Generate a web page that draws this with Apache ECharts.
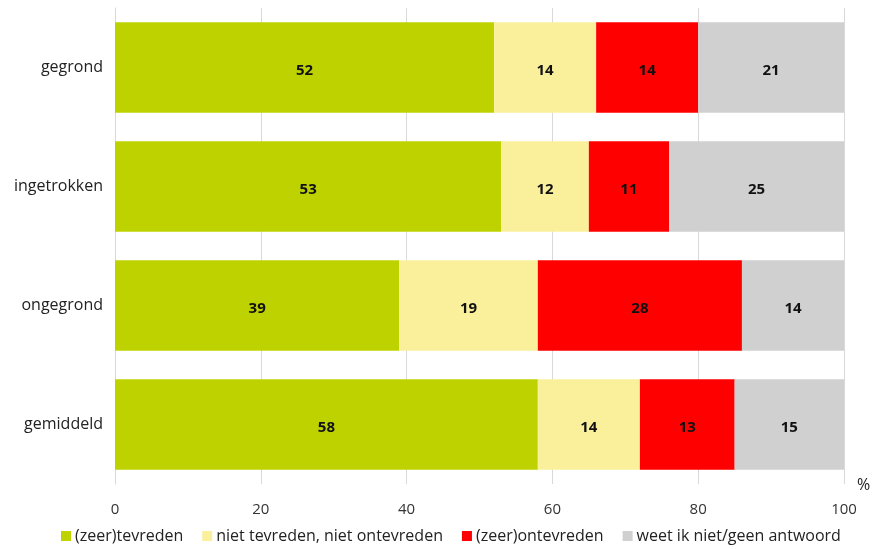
<!DOCTYPE html>
<html><head><meta charset="utf-8">
<script src="https://cdn.jsdelivr.net/npm/echarts@6/dist/echarts.min.js"></script>
<style>html,body{margin:0;padding:0;background:#fff}#c{width:872px;height:549px}</style>
</head><body><div id="c"></div>
<script>
const categories = ['gegrond', 'ingetrokken', 'ongegrond', 'gemiddeld'];
const seriesNames = ['(zeer)tevreden', 'niet tevreden, niet ontevreden', '(zeer)ontevreden', 'weet ik niet/geen antwoord'];
const tevreden = [52, 53, 39, 58];
const neutraal = [14, 12, 19, 14];
const ontevreden = [14, 11, 28, 13];
const weetniet = [21, 25, 14, 15];
const colors = ['#BED200', '#FAF09B', '#FF0000', '#D0D0D0'];
const values = [tevreden, neutraal, ontevreden, weetniet];
const font = '"Open Sans", sans-serif';

const chart = echarts.init(document.getElementById('c'));
chart.setOption({
  animation: false,
  textStyle: { fontFamily: font },
  grid: { left: 115, right: 28, top: 8, bottom: 65, containLabel: false },
  xAxis: {
    type: 'value', min: 0, max: 100, interval: 20,
    axisLine: { show: false }, axisTick: { show: false },
    splitLine: { show: true, lineStyle: { color: '#D9D9D9', width: 1 } },
    axisLabel: { color: '#333', fontSize: 15, margin: 18, fontFamily: font }
  },
  yAxis: {
    type: 'category', data: categories, inverse: true,
    axisLine: { show: true, lineStyle: { color: '#D9D9D9' } }, axisTick: { show: false },
    axisLabel: { color: '#222', fontSize: 16, margin: 12, fontFamily: font }
  },
  legend: {
    bottom: 0, left: 56, itemWidth: 10, itemHeight: 10, itemGap: 19,
    icon: 'rect',
    textStyle: { color: '#222', fontSize: 16, fontFamily: font, padding: [0, 0, 0, -1] },
    data: seriesNames
  },
  graphic: [{ type: 'text', left: 857, top: 477, style: { text: '%', fontSize: 16, fill: '#222', fontFamily: font } }],
  series: seriesNames.map((n, i) => ({
    name: n, type: 'bar', stack: 'total', barWidth: '76%',
    data: values[i],
    itemStyle: { color: colors[i] },
    label: { show: true, position: 'inside', offset: [0, 3], color: '#111', fontWeight: 'bold', fontSize: 15, fontFamily: font }
  }))
});
</script></body></html>
